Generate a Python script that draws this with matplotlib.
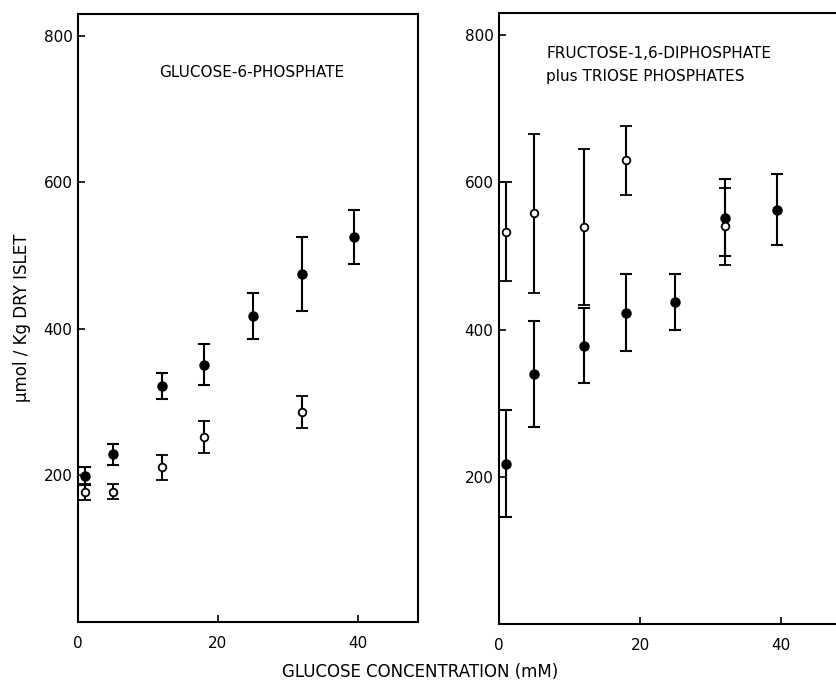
import matplotlib
matplotlib.use('Agg')
import matplotlib.pyplot as plt

# left panel: glucose-6-phosphate
g6p_x_filled = [1, 5, 12, 18, 25, 32, 39.5]
g6p_y_filled = [199, 229, 322, 351, 418, 475, 526]
g6p_e_filled = [12, 14, 18, 28, 31, 51, 37]
g6p_x_open = [1, 5, 12, 18, 32]
g6p_y_open = [178, 178, 211, 253, 287]
g6p_e_open = [11, 10, 17, 22, 22]

# right panel: fructose-1,6-diphosphate plus triose phosphates
fdp_x_filled = [1, 5, 12, 18, 25, 32, 39.5]
fdp_y_filled = [218, 340, 378, 423, 437, 552, 563]
fdp_e_filled = [73, 72, 51, 52, 38, 52, 48]
fdp_x_open = [1, 5, 12, 18, 32]
fdp_y_open = [533, 558, 539, 630, 540]
fdp_e_open = [67, 108, 106, 47, 52]

W, H = 836, 683
fig = plt.figure(figsize=(W / 100, H / 100), dpi=100)
plt.rcParams['font.family'] = 'DejaVu Sans'

ax1 = fig.add_axes([78 / W, 1 - 622 / H, 340 / W, 608 / H])
ax2 = fig.add_axes([499 / W, 1 - 624 / H, 337 / W, 611 / H])


def draw(ax, xf, yf, ef, xo, yo, eo, xmax):
    ax.errorbar(xf, yf, yerr=ef, fmt='o', color='black', ms=6.5,
                capsize=4, elinewidth=1.5, capthick=1.5, zorder=3)
    ax.errorbar(xo, yo, yerr=eo, fmt='o', color='black', mfc='white',
                mec='black', mew=1.3, ms=5.5, capsize=4, elinewidth=1.5,
                capthick=1.5, zorder=4)
    ax.set_xlim(0, xmax)
    ax.set_ylim(0, 830)
    ax.set_xticks([0, 20, 40])
    ax.set_yticks([200, 400, 600, 800])
    ax.tick_params(direction='in', length=5, width=1.2, labelsize=11)
    ax.tick_params(axis='x', pad=10)
    ax.tick_params(axis='y', pad=4)
    for s in ax.spines.values():
        s.set_linewidth(1.5)


draw(ax1, g6p_x_filled, g6p_y_filled, g6p_e_filled,
     g6p_x_open, g6p_y_open, g6p_e_open, 48.6)
draw(ax2, fdp_x_filled, fdp_y_filled, fdp_e_filled,
     fdp_x_open, fdp_y_open, fdp_e_open, 47.8)
ax2.spines['right'].set_visible(False)

ax1.text(0.51, 0.903, 'GLUCOSE-6-PHOSPHATE', transform=ax1.transAxes,
         ha='center', va='center', fontsize=11)
ax2.text(0.14, 0.915, 'FRUCTOSE-1,6-DIPHOSPHATE\nplus TRIOSE PHOSPHATES',
         transform=ax2.transAxes, ha='left', va='center', fontsize=11,
         linespacing=1.65)

fig.text(22 / W, 1 - 318 / H, 'μmol / Kg DRY ISLET', rotation=90,
         ha='center', va='center', fontsize=12)
fig.text(420 / W, 1 - 672 / H, 'GLUCOSE CONCENTRATION (mM)',
         ha='center', va='center', fontsize=12)

fig.savefig('out.png', dpi=100)
